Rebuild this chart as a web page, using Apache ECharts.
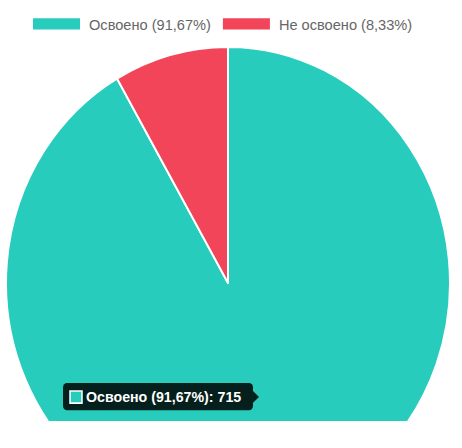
<!DOCTYPE html>
<html><head><meta charset="utf-8">
<script src="https://cdn.jsdelivr.net/npm/echarts@6/dist/echarts.min.js"></script>
<style>html,body{margin:0;padding:0;background:#fff;overflow:hidden}
#c{width:462px;height:421px;transform:scaleY(1.0641);transform-origin:0 0}</style>
</head><body><div id="c"></div>
<script>
const categories = ['Освоено (91,67%)', 'Не освоено (8,33%)'];
const values = [715, 65];
const colors = ['#27CCBD', '#F2455A'];
const tooltipText = 'Освоено (91,67%): 715';

const chart = echarts.init(document.getElementById('c'), null, {renderer: 'svg'});
chart.setOption({
  animation: false,
  color: colors,
  legend: {
    top: 15, left: 31, padding: 0,
    itemWidth: 49, itemHeight: 12.5, itemGap: 10,
    icon: 'rect',
    textStyle: {color: '#666', fontSize: 14.6, fontFamily: 'Liberation Sans, Arial, sans-serif', padding: [0, 0, 0, 3]},
    data: categories
  },
  series: [{
    type: 'pie',
    center: [228, 266],
    radius: [0, 222],
    startAngle: 90,
    clockwise: true,
    label: {show: false},
    labelLine: {show: false},
    itemStyle: {borderColor: '#fff', borderWidth: 2},
    emphasis: {disabled: true},
    data: categories.map((n, i) => ({name: n, value: values[i]}))
  }],
  graphic: [
    {type: 'rect', shape: {x: 63, y: 360, width: 190, height: 25.5, r: 4}, style: {fill: 'rgba(0,0,0,0.85)'}, z: 100},
    {type: 'polygon', shape: {points: [[253, 367.5], [259, 373], [253, 378.5]]}, style: {fill: 'rgba(0,0,0,0.85)'}, z: 100},
    {type: 'rect', shape: {x: 70, y: 367.5, width: 12, height: 11.3}, style: {fill: colors[0], stroke: '#fff', lineWidth: 1.5}, z: 101},
    {type: 'text', x: 86, y: 373.3, style: {text: tooltipText, fill: '#fff', font: 'bold 14.2px Liberation Sans, Arial, sans-serif', textVerticalAlign: 'middle'}, z: 101}
  ]
});
</script></body></html>
